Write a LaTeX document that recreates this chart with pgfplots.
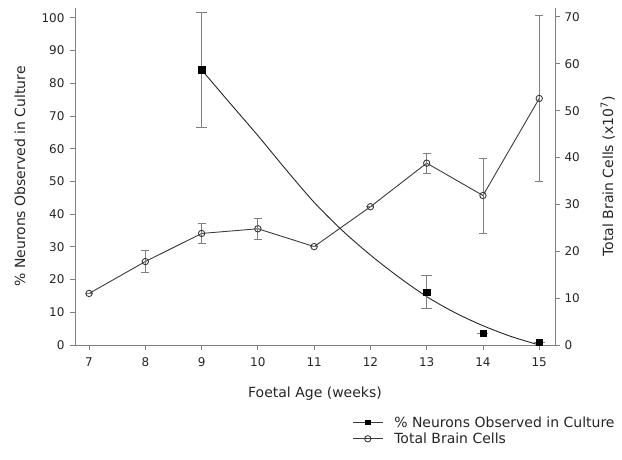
\documentclass[border=0pt]{standalone}
\usepackage{fontspec}
\setmainfont{DejaVu Sans}
\usepackage{pgfplots}
\pgfplotsset{compat=1.18}

\definecolor{axisgray}{RGB}{128,128,128}
\definecolor{linegray}{RGB}{60,60,60}

\pgfplotsset{
  common/.style={
    width=480pt, height=337pt, scale only axis,
    xmin=6.75, xmax=15.28, ymin=0,
    /pgf/number format/assume math mode=true,
    tick label style={font=\fontsize{12}{14}\selectfont, text=black!85},
    label style={font=\fontsize{14}{16}\selectfont, text=black!85},
    axis line style={draw=axisgray, line width=0.9pt, -},
    tick style={draw=axisgray, line width=0.9pt},
    tick align=outside, major tick length=5pt,
  }
}

\begin{document}
\begin{tikzpicture}
\useasboundingbox (-75pt,-114pt) rectangle (547pt,345pt);

% left axis: % neurons
\begin{axis}[common,
    ymax=103,
    axis x line*=bottom, axis y line*=left,
    xtick={7,...,15}, ytick={0,10,...,100},
    xticklabel style={yshift=-4pt},
    yticklabel style={xshift=-2pt},
    xlabel={Foetal Age (weeks)},
    ylabel={\% Neurons Observed in Culture},
    xlabel style={at={(axis description cs:0.5,-0.143)}, anchor=center},
    ylabel style={at={(axis description cs:-0.115,0.5)}, anchor=center},
]
% fitted curve
\addplot[black!85, line width=0.9pt, smooth] coordinates {
    (9,84.1) (9.5,74.0) (10,64.0) (10.5,53.6) (11,43.6) (11.5,35.0)
    (12,27.5) (12.5,20.8) (13,14.8) (13.5,9.9) (14,5.9) (14.5,2.6) (15,0)
};
% measured points
\addplot[only marks, mark=square*, mark size=3.2pt, mark options={fill=black, draw=black},
    error bars/.cd, y dir=both, y explicit,
    error bar style={draw=axisgray, line width=0.9pt},
    error mark options={rotate=90, mark size=5.5pt, draw=axisgray, line width=0.9pt}]
coordinates {
    (9,84.1) +- (0,17.5)
    (13,16.2) +- (0,5.1)
    (14,3.6) +- (0,0)
    (15,0.9) +- (0,0)
};
\end{axis}

% right axis: total brain cells
\begin{axis}[common,
    ymax=71.9,
    axis x line=none, axis y line*=right,
    ytick={0,10,...,70},
    yticklabel style={xshift=1pt},
    ylabel={Total Brain Cells (x10\textsuperscript{7})},
    ylabel style={at={(axis description cs:1.11,0.5)}, anchor=center},
    legend style={at={(1.135,-0.2)}, anchor=north east, draw=none, fill=none,
        font=\fontsize{14}{16}\selectfont, cells={anchor=west}, row sep=0pt,
        text=black!85},
    legend image code/.code={
        \draw[mark repeat=2, mark phase=2] plot coordinates {(0pt,0pt) (15pt,0pt) (30pt,0pt)};
    },
]
\addlegendimage{linegray, line width=0.9pt, mark=square*, mark size=2.2pt, mark options={fill=black, draw=black}}
\addlegendentry{\hspace{9pt}\% Neurons Observed in Culture}
\addplot[linegray, line width=0.9pt, mark=o, mark size=3.2pt, mark options={fill=white, draw=linegray},
    error bars/.cd, y dir=both, y explicit,
    error bar style={draw=axisgray, line width=0.9pt},
    error mark options={rotate=90, mark size=4pt, draw=axisgray, line width=0.9pt}]
coordinates {
    (7,11.0) +- (0,0)
    (8,17.8) +- (0,2.3)
    (9,23.8) +- (0,2.1)
    (10,24.8) +- (0,2.3)
    (11,21.0) +- (0,0)
    (12,29.5) +- (0,0)
    (13,38.8) +- (0,2.1)
    (14,31.9) +- (0,8.0)
    (15,52.6) +- (0,17.7)
};
\addlegendentry{\hspace{9pt}Total Brain Cells}
\end{axis}
\end{tikzpicture}
\end{document}
